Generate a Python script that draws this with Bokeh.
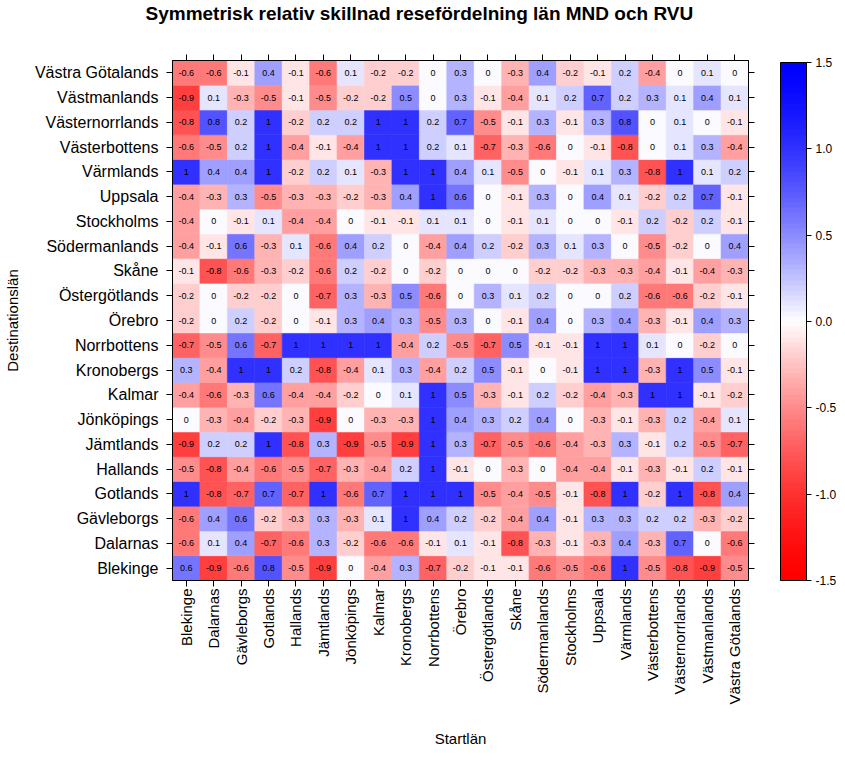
import numpy as np
from bokeh.plotting import figure
from bokeh.layouts import column
from bokeh.models import (LinearColorMapper, ColorBar, FixedTicker, PrintfTickFormatter,
                          CategoricalAxis, ColumnDataSource, Title)
from bokeh.embed import file_html
from bokeh.resources import INLINE
from bokeh.core.properties import value

# Column order (Startlän, left to right) and row order (Destinationslän, bottom to top)
lan = ["Blekinge", "Dalarnas", "Gävleborgs", "Gotlands", "Hallands", "Jämtlands",
       "Jönköpings", "Kalmar", "Kronobergs", "Norrbottens", "Örebro", "Östergötlands",
       "Skåne", "Södermanlands", "Stockholms", "Uppsala", "Värmlands", "Västerbottens",
       "Västernorrlands", "Västmanlands", "Västra Götalands"]

# One list per destination county, values in column (start county) order
dest_blekinge = [0.6, -0.9, -0.6, 0.8, -0.5, -0.9, 0, -0.4, 0.3, -0.7, -0.2, -0.1, -0.1, -0.6, -0.5, -0.6, 1, -0.5, -0.8, -0.9, -0.5]
dest_dalarnas = [-0.6, 0.1, 0.4, -0.7, -0.6, 0.3, -0.2, -0.6, -0.6, -0.1, 0.1, -0.1, -0.8, -0.3, -0.1, -0.3, 0.4, -0.3, 0.7, 0, -0.6]
dest_gavleborgs = [-0.6, 0.4, 0.6, -0.2, -0.3, 0.3, -0.3, 0.1, 1, 0.4, 0.2, -0.2, -0.4, 0.4, -0.1, 0.3, 0.3, 0.2, 0.2, -0.3, -0.2]
dest_gotlands = [1, -0.8, -0.7, 0.7, -0.7, 1, -0.6, 0.7, 1, 1, 1, -0.5, -0.4, -0.5, -0.1, -0.8, 1, -0.2, 1, -0.8, 0.4]
dest_hallands = [-0.5, -0.8, -0.4, -0.6, -0.5, -0.7, -0.3, -0.4, 0.2, 1, -0.1, 0, -0.3, 0, -0.4, -0.4, -0.1, -0.3, -0.1, 0.2, -0.1]
dest_jamtlands = [-0.9, 0.2, 0.2, 1, -0.8, 0.3, -0.9, -0.5, -0.9, 1, 0.3, -0.7, -0.5, -0.6, -0.4, -0.3, 0.3, -0.1, 0.2, -0.5, -0.7]
dest_jonkopings = [0, -0.3, -0.4, -0.2, -0.3, -0.9, 0, -0.3, -0.3, 1, 0.4, 0.3, 0.2, 0.4, 0, -0.3, -0.1, -0.3, 0.2, -0.4, 0.1]
dest_kalmar = [-0.4, -0.6, -0.3, 0.6, -0.4, -0.4, -0.2, 0, 0.1, 1, 0.5, -0.3, -0.1, 0.2, -0.2, -0.4, -0.3, 1, 1, -0.1, -0.2]
dest_kronobergs = [0.3, -0.4, 1, 1, 0.2, -0.8, -0.4, 0.1, 0.3, -0.4, 0.2, 0.5, -0.1, 0, -0.1, 1, 1, -0.3, 1, 0.5, -0.1]
dest_norrbottens = [-0.7, -0.5, 0.6, -0.7, 1, 1, 1, 1, -0.4, 0.2, -0.5, -0.7, 0.5, -0.1, -0.1, 1, 1, 0.1, 0, -0.2, 0]
dest_orebro = [-0.2, 0, 0.2, -0.2, 0, -0.1, 0.3, 0.4, 0.3, -0.5, 0.3, 0, -0.1, 0.4, 0, 0.3, 0.4, -0.3, -0.1, 0.4, 0.3]
dest_ostergotlands = [-0.2, 0, -0.2, -0.2, 0, -0.7, 0.3, -0.3, 0.5, -0.6, 0, 0.3, 0.1, 0.2, 0, 0, 0.2, -0.6, -0.6, -0.2, -0.1]
dest_skane = [-0.1, -0.8, -0.6, -0.3, -0.2, -0.6, 0.2, -0.2, 0, -0.2, 0, 0, 0, -0.2, -0.2, -0.3, -0.3, -0.4, -0.1, -0.4, -0.3]
dest_sodermanlands = [-0.4, -0.1, 0.6, -0.3, 0.1, -0.6, 0.4, 0.2, 0, -0.4, 0.4, 0.2, -0.2, 0.3, 0.1, 0.3, 0, -0.5, -0.2, 0, 0.4]
dest_stockholms = [-0.4, 0, -0.1, 0.1, -0.4, -0.4, 0, -0.1, -0.1, 0.1, 0.1, 0, -0.1, 0.1, 0, 0, -0.1, 0.2, -0.2, 0.2, -0.1]
dest_uppsala = [-0.4, -0.3, 0.3, -0.5, -0.3, -0.3, -0.2, -0.3, 0.4, 1, 0.6, 0, -0.1, 0.3, 0, 0.4, 0.1, -0.2, 0.2, 0.7, -0.1]
dest_varmlands = [1, 0.4, 0.4, 1, -0.2, 0.2, 0.1, -0.3, 1, 1, 0.4, 0.1, -0.5, 0, -0.1, 0.1, 0.3, -0.8, 1, 0.1, 0.2]
dest_vasterbottens = [-0.6, -0.5, 0.2, 1, -0.4, -0.1, -0.4, 1, 1, 0.2, 0.1, -0.7, -0.3, -0.6, 0, -0.1, -0.8, 0, 0.1, 0.3, -0.4]
dest_vasternorrlands = [-0.8, 0.8, 0.2, 1, -0.2, 0.2, 0.2, 1, 1, 0.2, 0.7, -0.5, -0.1, 0.3, -0.1, 0.3, 0.8, 0, 0.1, 0, -0.1]
dest_vastmanlands = [-0.9, 0.1, -0.3, -0.5, -0.1, -0.5, -0.2, -0.2, 0.5, 0, 0.3, -0.1, -0.4, 0.1, 0.2, 0.7, 0.2, 0.3, 0.1, 0.4, 0.1]
dest_vastra_gotalands = [-0.6, -0.6, -0.1, 0.4, -0.1, -0.6, 0.1, -0.2, -0.2, 0, 0.3, 0, -0.3, 0.4, -0.2, -0.1, 0.2, -0.4, 0, 0.1, 0]

dest_rows = [dest_blekinge, dest_dalarnas, dest_gavleborgs, dest_gotlands, dest_hallands,
             dest_jamtlands, dest_jonkopings, dest_kalmar, dest_kronobergs, dest_norrbottens,
             dest_orebro, dest_ostergotlands, dest_skane, dest_sodermanlands, dest_stockholms,
             dest_uppsala, dest_varmlands, dest_vasterbottens, dest_vasternorrlands,
             dest_vastmanlands, dest_vastra_gotalands]

colorbar_ticks = [-1.5, -1.0, -0.5, 0.0, 0.5, 1.0, 1.5]
title_text = "Symmetrisk relativ skillnad resefördelning län MND och RVU"

# Build table
xs, ys, vs, labels = [], [], [], []
for dest, row in zip(lan, dest_rows):
    for start, v in zip(lan, row):
        xs.append(start)
        ys.append(dest)
        vs.append(v)
        s = f"{v:g}"
        if s == "-0":
            s = "0"
        labels.append(s)
source = ColumnDataSource(dict(x=xs, y=ys, v=vs, label=labels))

# red - white - blue palette
n = 100
palette = []
for i in range(n):
    c = -1.5 + 3.0 * (i + 0.5) / n
    s = 1 - (1 - min(abs(c) / 1.5, 1)) ** 1.5
    w = int(round(255 * (1 - s)))
    if c < 0:
        palette.append("#%02x%02x%02x" % (255, w, w))
    else:
        palette.append("#%02x%02x%02x" % (w, w, 255))
mapper = LinearColorMapper(palette=palette, low=-1.5, high=1.5)

FONT = "Liberation Sans"

# --- title strip (its own small figure so the title can sit high above the heatmap)
tfig = figure(width=829, height=40, output_backend="svg", toolbar_location=None, tools="",
              x_axis_location=None, y_axis_location=None,
              min_border_left=0, min_border_right=0, min_border_top=10, min_border_bottom=0)
tfig.outline_line_color = None
tfig.grid.visible = False
tfig.title = Title(text=title_text, align="left", offset=-27, text_font=FONT,
                   text_font_size="19px", text_font_style="bold", text_color="black",
                   standoff=0)

# --- main heatmap
p = figure(x_range=lan, y_range=lan, frame_width=576, frame_height=520,
           output_backend="svg", toolbar_location=None, tools="",
           min_border_left=172, min_border_top=20, min_border_bottom=5, min_border_right=5)

p.rect(x="x", y="y", width=1, height=1, source=source,
       fill_color={"field": "v", "transform": mapper},
       line_color={"field": "v", "transform": mapper}, line_width=0.6)
p.text(x="x", y="y", text="label", source=source, text_align="center",
       text_baseline="middle", text_font=value(FONT), text_font_size="9px",
       text_color="black")

p.grid.visible = False
p.outline_line_color = "black"
p.outline_line_width = 1

for ax in (p.xaxis[0], p.yaxis[0]):
    ax.major_tick_in = 0
    ax.major_tick_out = 6
    ax.major_tick_line_color = "black"
    ax.axis_line_color = "black"
    ax.major_label_text_font = FONT
    ax.major_label_text_color = "black"
    ax.axis_label_text_font = FONT
    ax.axis_label_text_font_size = "15px"
    ax.axis_label_text_font_style = "normal"
    ax.axis_label_text_color = "black"

p.xaxis.major_label_text_font_size = "15px"
p.yaxis.major_label_text_font_size = "16px"
p.xaxis.major_label_standoff = 2
p.yaxis.major_label_standoff = 8
p.xaxis.major_label_orientation = np.pi / 2
p.xaxis.axis_label = "Startlän"
p.xaxis.axis_label_standoff = 23
p.yaxis.axis_label = "Destinationslän"
p.yaxis.axis_label_standoff = 11

top_ax = CategoricalAxis(major_tick_in=0, major_tick_out=6, major_tick_line_color="black",
                         axis_line_color="black", major_label_text_font_size="0px",
                         major_label_standoff=0)
p.add_layout(top_ax, "above")
right_ax = CategoricalAxis(major_tick_in=0, major_tick_out=6, major_tick_line_color="black",
                           axis_line_color="black", major_label_text_font_size="0px",
                           major_label_standoff=0)
p.add_layout(right_ax, "right")

cb = ColorBar(color_mapper=mapper, ticker=FixedTicker(ticks=colorbar_ticks),
              formatter=PrintfTickFormatter(format="%.1f"),
              width=26, height=518, padding=0, margin=0,
              location=(26, 0),
              bar_line_color="black", bar_line_width=1,
              major_tick_line_color="black", major_tick_in=0, major_tick_out=5,
              minor_tick_line_color=None,
              major_label_text_font=FONT, major_label_text_font_size="12px",
              major_label_text_color="black", label_standoff=4,
              background_fill_alpha=0, border_line_color=None)
p.add_layout(cb, "right")

layout = column(tfig, p, spacing=0)
open("out.html", "w").write(file_html(layout, INLINE))
